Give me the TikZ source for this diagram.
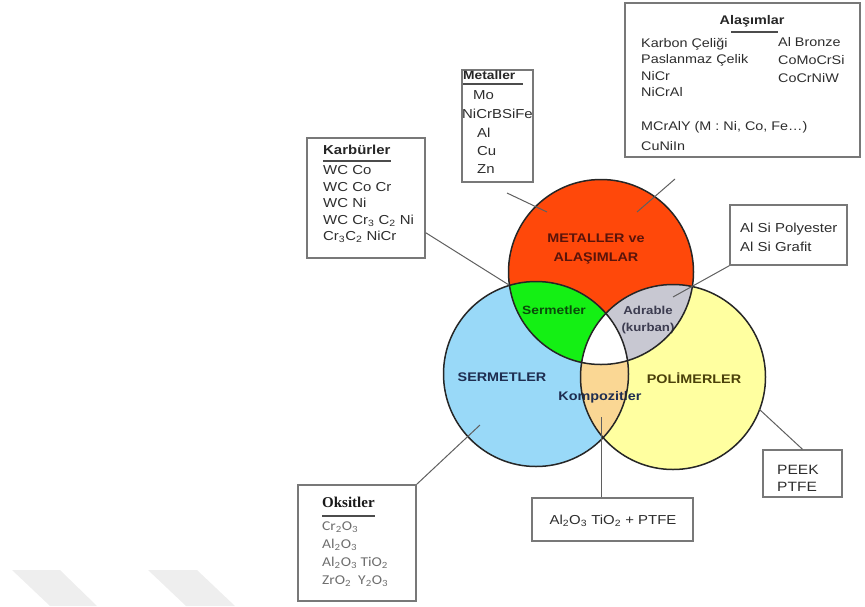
\documentclass[tikz,border=0pt]{standalone}
\usepackage{fontspec}
\setmainfont{Liberation Sans}[FakeStretch=1.15]
\newfontfamily\headserif{Liberation Serif}
\newfontfamily\oxidefont{Carlito}[FakeStretch=1.15]

\definecolor{metalred}{RGB}{255,72,10}
\definecolor{cermetblue}{RGB}{153,217,248}
\definecolor{polyyellow}{RGB}{255,255,160}
\definecolor{cermetgreen}{RGB}{20,240,20}
\definecolor{adrgray}{RGB}{200,200,210}
\definecolor{compfill}{RGB}{250,215,148}
\definecolor{boxgray}{RGB}{120,120,120}
\definecolor{leadgray}{RGB}{95,95,95}
\definecolor{textdark}{RGB}{45,45,45}
\definecolor{oxgray}{RGB}{110,110,110}
\definecolor{wmgray}{RGB}{238,238,238}
\definecolor{metaltext}{RGB}{90,20,10}
\definecolor{greentext}{RGB}{10,75,10}
\definecolor{adrtext}{RGB}{60,60,80}
\definecolor{bluetext}{RGB}{30,45,80}
\definecolor{yellowtext}{RGB}{75,65,10}

\newcommand{\venrad}{92.5pt}

\begin{document}
\begin{tikzpicture}[x=1pt, y=-1pt,
		box/.style={rectangle, draw=boxgray, line width=1.4pt, inner sep=0pt},
		item/.style={anchor=base west, inner sep=0pt, text=textdark, font=\fontsize{13}{15}\selectfont},
		alitem/.style={item, font=\fontsize{12.5}{15}\selectfont},
		oxitem/.style={item, text=oxgray, font=\oxidefont\fontsize{13.5}{15}\selectfont},
		head/.style={anchor=base west, inner sep=0pt, text=black!85, font=\fontsize{13}{15}\selectfont\bfseries},
		uline/.style={draw=black!70, line width=1.8pt},
		leader/.style={draw=leadgray, line width=1pt},
		setlabel/.style={anchor=base, inner sep=0pt, font=\fontsize{12.5}{19}\selectfont\bfseries},
		set/.style={circle, draw=black!85, line width=1.5pt, minimum size=185pt, inner sep=0pt}]
			\useasboundingbox (0, 0) rectangle (865, 606);

			% watermark
			\fill[wmgray] (12, 570) -- (60, 570) -- (97, 606) -- (50, 606) -- cycle;
			\fill[wmgray] (148, 570) -- (197, 570) -- (235, 606) -- (186, 606) -- cycle;

			\coordinate (cm) at (601, 272);
			\coordinate (cs) at (536, 374);
			\coordinate (cp) at (673, 377);

			% filled regions
			\fill[cermetblue] (cs) circle [radius=\venrad];
			\fill[polyyellow] (cp) circle [radius=\venrad];
			\fill[metalred] (cm) circle [radius=\venrad];
			\begin{scope}
				\clip (cs) circle [radius=\venrad];
				\fill[compfill] (cp) circle [radius=\venrad];
			\end{scope}
			\begin{scope}
				\clip (cm) circle [radius=\venrad];
				\fill[cermetgreen] (cs) circle [radius=\venrad];
				\fill[adrgray] (cp) circle [radius=\venrad];
				\clip (cs) circle [radius=\venrad];
				\fill[white] (cp) circle [radius=\venrad];
			\end{scope}

			% labels
			\draw (596, 249) node [setlabel, anchor=center, align=center, text=metaltext] (metallbl) {METALLER ve\\ALAŞIMLAR};
			\draw (554, 314) node [setlabel, text=greentext, font=\fontsize{12}{13}\selectfont\bfseries] (sermlbl) {Sermetler};
			\draw (648, 320) node [setlabel, anchor=center, align=center, text=adrtext, font=\fontsize{11.5}{17}\selectfont\bfseries] (adrlbl) {Adrable\\(kurban)};
			\draw (502, 381.5) node [setlabel, text=bluetext] (cermetlbl) {SERMETLER};
			\draw (694, 383.5) node [setlabel, text=yellowtext] (polylbl) {POLİMERLER};
			\draw (600, 400.5) node [setlabel, text=bluetext] (complbl) {Kompozitler};

			\draw (cm) node [set] (metal) {};
			\draw (cs) node [set] (cermet) {};
			\draw (cp) node [set] (polymer) {};

			% boxes
			\draw (742.5, 80) node [box, minimum width=235pt, minimum height=154pt] (alasim) {};
			\draw (497.5, 126) node [box, minimum width=71pt, minimum height=112pt] (metbox) {};
			\draw (366, 198) node [box, minimum width=118pt, minimum height=120pt] (karbur) {};
			\draw (788.5, 235) node [box, minimum width=117pt, minimum height=60pt] (alsi) {};
			\draw (802.5, 473.5) node [box, minimum width=79pt, minimum height=47pt] (peek) {};
			\draw (612.5, 519.5) node [box, minimum width=161pt, minimum height=43pt] (comp) {};
			\draw (357, 543) node [box, minimum width=118pt, minimum height=116pt] (oksit) {};

			% Alasimlar
			\draw (752, 24.5) node [head, anchor=base, font=\fontsize{12.5}{15}\selectfont\bfseries] (alhead) {Alaşımlar};
			\draw[uline] ([xshift=12pt, yshift=-5pt]alhead.south west) -- ([xshift=-7pt, yshift=-5pt]alhead.south east);
			\draw (641, 47) node [alitem] (al1) {Karbon Çeliği};
			\draw (641, 63.5) node [alitem] (al2) {Paslanmaz Çelik};
			\draw (641, 80) node [alitem] (al3) {NiCr};
			\draw (641, 96.5) node [alitem] (al4) {NiCrAl};
			\draw (778, 46.2) node [alitem] (al5) {Al Bronze};
			\draw (778, 64.5) node [alitem] (al6) {CoMoCrSi};
			\draw (778, 82.5) node [alitem] (al7) {CoCrNiW};
			\draw (641, 130.5) node [alitem] (al8) {MCrAlY (M : Ni, Co, Fe…)};
			\draw (641, 150) node [alitem] (al9) {CuNiIn};

			% Metaller
			\draw (463, 79.3) node [head, font=\fontsize{12}{14}\selectfont\bfseries] (methead) {Metaller};
			\draw[uline] ([yshift=-4.5pt]methead.south west) -- ([xshift=7pt, yshift=-4.5pt]methead.south east);
			\draw (473, 99.7) node [item] (met1) {Mo};
			\draw (462, 118.7) node [item] (met2) {NiCrBSiFe};
			\draw (477, 137.7) node [item] (met3) {Al};
			\draw (477, 155.7) node [item] (met4) {Cu};
			\draw (477, 173.7) node [item] (met5) {Zn};

			% Karburler
			\draw (323, 154.5) node [head] (karbhead) {Karbürler};
			\draw[uline] ([yshift=-6.5pt]karbhead.south west) -- ([yshift=-6.5pt]karbhead.south east);
			\draw (323, 174.7) node [item] (karb1) {WC Co};
			\draw (323, 191) node [item] (karb2) {WC Co Cr};
			\draw (323, 207.5) node [item] (karb3) {WC Ni};
			\draw (323, 224) node [item] (karb4) {WC Cr\textsubscript{3} C\textsubscript{2} Ni};
			\draw (323, 240.5) node [item] (karb5) {Cr\textsubscript{3}C\textsubscript{2} NiCr};

			% Al Si
			\draw (740, 232.7) node [item] (alsi1) {Al Si Polyester};
			\draw (740, 251.7) node [item] (alsi2) {Al Si Grafit};

			% PEEK
			\draw (777, 474.9) node [item, font=\fontsize{13.5}{15}\selectfont] (peek1) {PEEK};
			\draw (777, 491.9) node [item, font=\fontsize{13.5}{15}\selectfont] (peek2) {PTFE};

			% kompozit
			\draw (613, 524.7) node [item, anchor=base] (comptext) {Al\textsubscript{2}O\textsubscript{3} TiO\textsubscript{2} + PTFE};

			% Oksitler
			\draw (322, 507) node [head, text=black!90, font=\headserif\fontsize{15}{17}\selectfont\bfseries] (okhead) {Oksitler};
			\draw[uline] ([yshift=-8.5pt]okhead.south west) -- ([yshift=-8.5pt]okhead.south east);
			\draw (322, 530.3) node [oxitem] (ok1) {Cr\textsubscript{2}O\textsubscript{3}};
			\draw (322, 548.3) node [oxitem] (ok2) {Al\textsubscript{2}O\textsubscript{3}};
			\draw (322, 566.3) node [oxitem] (ok3) {Al\textsubscript{2}O\textsubscript{3} TiO\textsubscript{2}};
			\draw (322, 584.3) node [oxitem] (ok4) {ZrO\textsubscript{2}\ \ Y\textsubscript{2}O\textsubscript{3}};

			% leaders
			\coordinate (mettail) at (507, 193);
			\coordinate (mettip) at (547, 212);
			\coordinate (altail) at (675, 179);
			\coordinate (altip) at (637, 212);
			\coordinate (karbtip) at (509, 285);
			\coordinate (alsitip) at (673, 297);
			\coordinate (peektip) at (759, 409);
			\coordinate (comptip) at (601, 417);
			\coordinate (oxtip) at (480, 425);
			\draw[leader] (mettail) -- (mettip);
			\draw[leader] (altail) -- (altip);
			\draw[leader] ([yshift=26pt]karbur.south east) -- (karbtip);
			\draw[leader] (alsi.south west) -- (alsitip);
			\draw[leader] (peek.north) -- (peektip);
			\draw[leader] (comp.north -| comptip) -- (comptip);
			\draw[leader] (oksit.north east) -- (oxtip);
		\end{tikzpicture}
\end{document}
